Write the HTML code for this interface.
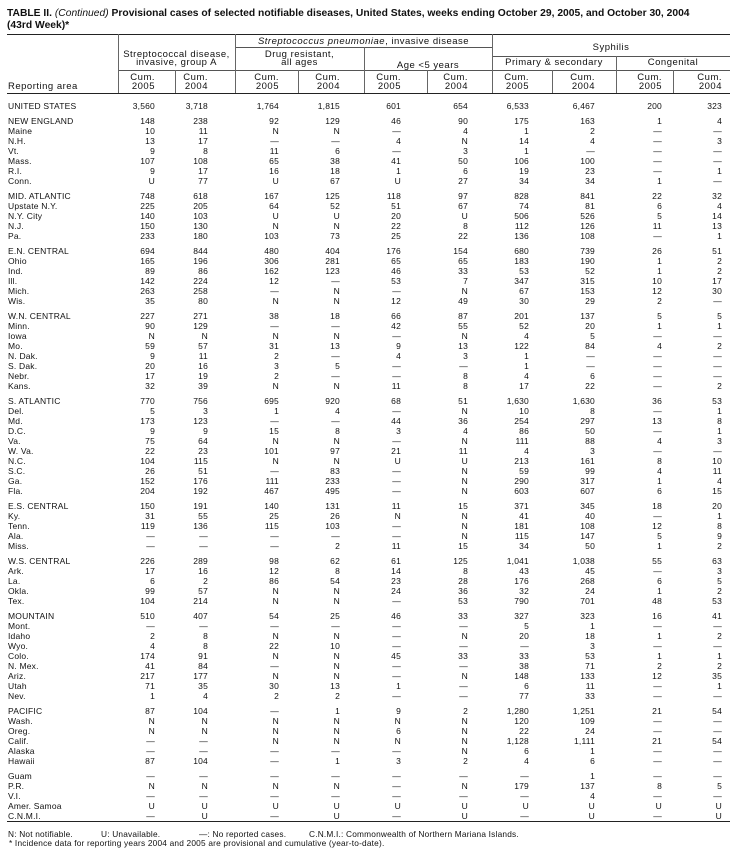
<!DOCTYPE html>
<html><head><meta charset="utf-8">
<style>
html,body{margin:0;padding:0;background:#fff;}
body{width:733px;height:854px;position:relative;overflow:hidden;font-family:"Liberation Sans",Arial,sans-serif;color:#111;}
.t{position:absolute;left:7px;font-size:10.3px;line-height:12px;font-weight:bold;white-space:nowrap;}
.t i{font-weight:normal;}
.h{position:absolute;background:#222;height:1px;}
.v{position:absolute;background:#666;width:1px;}
.hl{position:absolute;font-size:9.5px;letter-spacing:.5px;line-height:10px;white-space:nowrap;text-align:center;}
.hr{position:absolute;font-size:9.5px;letter-spacing:.5px;line-height:10px;white-space:nowrap;}
.r{position:absolute;left:0;width:733px;height:10px;line-height:10px;font-size:8.5px;letter-spacing:.2px;white-space:nowrap;}
.r span,.hc span{position:absolute;top:0;}
.hc{position:absolute;left:0;width:733px;height:10px;line-height:10px;font-size:9.5px;letter-spacing:.5px;white-space:nowrap;}
.a{left:8px;}
.c1{right:578px}.c2{right:525px}.c3{right:454px}.c4{right:393px}.c5{right:332px}
.c6{right:265px}.c7{right:204px}.c8{right:138px}.c9{right:71px}.c10{right:11px}
.f{position:absolute;font-size:8.3px;line-height:10px;letter-spacing:.2px;white-space:nowrap;}
</style></head><body>

<div class="t" style="top:8px">TABLE II. <i>(Continued)</i> Provisional cases of selected notifiable diseases, United States, weeks ending October 29, 2005, and October 30, 2004</div>
<div class="t" style="top:20px">(43rd Week)*</div>

<!-- horizontal rules -->
<div class="h" style="left:7px;width:723px;top:34px;"></div>
<div class="h" style="left:235px;width:257px;top:47px;background:#555"></div>
<div class="h" style="left:492px;width:238px;top:56px;background:#555"></div>
<div class="h" style="left:118px;width:612px;top:70px;background:#555"></div>
<div class="h" style="left:7px;width:723px;top:93px;"></div>
<div class="h" style="left:7px;width:723px;top:821px;"></div>

<!-- vertical lines -->
<div class="v" style="left:118px;top:34px;height:59px"></div>
<div class="v" style="left:175px;top:70px;height:23px"></div>
<div class="v" style="left:235px;top:34px;height:59px"></div>
<div class="v" style="left:298px;top:70px;height:23px"></div>
<div class="v" style="left:364px;top:47px;height:46px"></div>
<div class="v" style="left:427px;top:70px;height:23px"></div>
<div class="v" style="left:492px;top:34px;height:59px"></div>
<div class="v" style="left:552px;top:70px;height:23px"></div>
<div class="v" style="left:616px;top:56px;height:37px"></div>
<div class="v" style="left:673px;top:70px;height:23px"></div>

<!-- header labels -->
<div class="hl" style="left:235px;width:257px;top:37px"><i>Streptococcus pneumoniae</i>, invasive disease</div>
<div class="hl" style="left:492px;width:238px;top:43px">Syphilis</div>
<div class="hl" style="left:118px;width:117px;top:50px">Streptococcal disease,</div>
<div class="hl" style="left:118px;width:117px;top:58px">invasive, group A</div>
<div class="hl" style="left:235px;width:129px;top:50px">Drug resistant,</div>
<div class="hl" style="left:235px;width:129px;top:58px">all ages</div>
<div class="hl" style="left:364px;width:128px;top:61px">Age &lt;5 years</div>
<div class="hl" style="left:492px;width:124px;top:58px">Primary &amp; secondary</div>
<div class="hl" style="left:616px;width:114px;top:58px">Congenital</div>
<div class="hr" style="left:8px;top:82px">Reporting area</div>
<div class="hc" style="top:73px"><span class="c1">Cum.</span><span class="c2">Cum.</span><span class="c3">Cum.</span><span class="c4">Cum.</span><span class="c5">Cum.</span><span class="c6">Cum.</span><span class="c7">Cum.</span><span class="c8">Cum.</span><span class="c9">Cum.</span><span class="c10">Cum.</span></div>
<div class="hc" style="top:82px"><span class="c1">2005</span><span class="c2">2004</span><span class="c3">2005</span><span class="c4">2004</span><span class="c5">2005</span><span class="c6">2004</span><span class="c7">2005</span><span class="c8">2004</span><span class="c9">2005</span><span class="c10">2004</span></div>

<!-- data rows -->
<div class="r" style="top:101px"><span class="a">UNITED STATES</span><span class="c1">3,560</span><span class="c2">3,718</span><span class="c3">1,764</span><span class="c4">1,815</span><span class="c5">601</span><span class="c6">654</span><span class="c7">6,533</span><span class="c8">6,467</span><span class="c9">200</span><span class="c10">323</span></div>

<div class="r" style="top:116px"><span class="a">NEW ENGLAND</span><span class="c1">148</span><span class="c2">238</span><span class="c3">92</span><span class="c4">129</span><span class="c5">46</span><span class="c6">90</span><span class="c7">175</span><span class="c8">163</span><span class="c9">1</span><span class="c10">4</span></div>
<div class="r" style="top:126px"><span class="a">Maine</span><span class="c1">10</span><span class="c2">11</span><span class="c3">N</span><span class="c4">N</span><span class="c5">—</span><span class="c6">4</span><span class="c7">1</span><span class="c8">2</span><span class="c9">—</span><span class="c10">—</span></div>
<div class="r" style="top:136px"><span class="a">N.H.</span><span class="c1">13</span><span class="c2">17</span><span class="c3">—</span><span class="c4">—</span><span class="c5">4</span><span class="c6">N</span><span class="c7">14</span><span class="c8">4</span><span class="c9">—</span><span class="c10">3</span></div>
<div class="r" style="top:146px"><span class="a">Vt.</span><span class="c1">9</span><span class="c2">8</span><span class="c3">11</span><span class="c4">6</span><span class="c5">—</span><span class="c6">3</span><span class="c7">1</span><span class="c8">—</span><span class="c9">—</span><span class="c10">—</span></div>
<div class="r" style="top:156px"><span class="a">Mass.</span><span class="c1">107</span><span class="c2">108</span><span class="c3">65</span><span class="c4">38</span><span class="c5">41</span><span class="c6">50</span><span class="c7">106</span><span class="c8">100</span><span class="c9">—</span><span class="c10">—</span></div>
<div class="r" style="top:166px"><span class="a">R.I.</span><span class="c1">9</span><span class="c2">17</span><span class="c3">16</span><span class="c4">18</span><span class="c5">1</span><span class="c6">6</span><span class="c7">19</span><span class="c8">23</span><span class="c9">—</span><span class="c10">1</span></div>
<div class="r" style="top:176px"><span class="a">Conn.</span><span class="c1">U</span><span class="c2">77</span><span class="c3">U</span><span class="c4">67</span><span class="c5">U</span><span class="c6">27</span><span class="c7">34</span><span class="c8">34</span><span class="c9">1</span><span class="c10">—</span></div>

<div class="r" style="top:191px"><span class="a">MID. ATLANTIC</span><span class="c1">748</span><span class="c2">618</span><span class="c3">167</span><span class="c4">125</span><span class="c5">118</span><span class="c6">97</span><span class="c7">828</span><span class="c8">841</span><span class="c9">22</span><span class="c10">32</span></div>
<div class="r" style="top:201px"><span class="a">Upstate N.Y.</span><span class="c1">225</span><span class="c2">205</span><span class="c3">64</span><span class="c4">52</span><span class="c5">51</span><span class="c6">67</span><span class="c7">74</span><span class="c8">81</span><span class="c9">6</span><span class="c10">4</span></div>
<div class="r" style="top:211px"><span class="a">N.Y. City</span><span class="c1">140</span><span class="c2">103</span><span class="c3">U</span><span class="c4">U</span><span class="c5">20</span><span class="c6">U</span><span class="c7">506</span><span class="c8">526</span><span class="c9">5</span><span class="c10">14</span></div>
<div class="r" style="top:221px"><span class="a">N.J.</span><span class="c1">150</span><span class="c2">130</span><span class="c3">N</span><span class="c4">N</span><span class="c5">22</span><span class="c6">8</span><span class="c7">112</span><span class="c8">126</span><span class="c9">11</span><span class="c10">13</span></div>
<div class="r" style="top:231px"><span class="a">Pa.</span><span class="c1">233</span><span class="c2">180</span><span class="c3">103</span><span class="c4">73</span><span class="c5">25</span><span class="c6">22</span><span class="c7">136</span><span class="c8">108</span><span class="c9">—</span><span class="c10">1</span></div>

<div class="r" style="top:246px"><span class="a">E.N. CENTRAL</span><span class="c1">694</span><span class="c2">844</span><span class="c3">480</span><span class="c4">404</span><span class="c5">176</span><span class="c6">154</span><span class="c7">680</span><span class="c8">739</span><span class="c9">26</span><span class="c10">51</span></div>
<div class="r" style="top:256px"><span class="a">Ohio</span><span class="c1">165</span><span class="c2">196</span><span class="c3">306</span><span class="c4">281</span><span class="c5">65</span><span class="c6">65</span><span class="c7">183</span><span class="c8">190</span><span class="c9">1</span><span class="c10">2</span></div>
<div class="r" style="top:266px"><span class="a">Ind.</span><span class="c1">89</span><span class="c2">86</span><span class="c3">162</span><span class="c4">123</span><span class="c5">46</span><span class="c6">33</span><span class="c7">53</span><span class="c8">52</span><span class="c9">1</span><span class="c10">2</span></div>
<div class="r" style="top:276px"><span class="a">Ill.</span><span class="c1">142</span><span class="c2">224</span><span class="c3">12</span><span class="c4">—</span><span class="c5">53</span><span class="c6">7</span><span class="c7">347</span><span class="c8">315</span><span class="c9">10</span><span class="c10">17</span></div>
<div class="r" style="top:286px"><span class="a">Mich.</span><span class="c1">263</span><span class="c2">258</span><span class="c3">—</span><span class="c4">N</span><span class="c5">—</span><span class="c6">N</span><span class="c7">67</span><span class="c8">153</span><span class="c9">12</span><span class="c10">30</span></div>
<div class="r" style="top:296px"><span class="a">Wis.</span><span class="c1">35</span><span class="c2">80</span><span class="c3">N</span><span class="c4">N</span><span class="c5">12</span><span class="c6">49</span><span class="c7">30</span><span class="c8">29</span><span class="c9">2</span><span class="c10">—</span></div>

<div class="r" style="top:311px"><span class="a">W.N. CENTRAL</span><span class="c1">227</span><span class="c2">271</span><span class="c3">38</span><span class="c4">18</span><span class="c5">66</span><span class="c6">87</span><span class="c7">201</span><span class="c8">137</span><span class="c9">5</span><span class="c10">5</span></div>
<div class="r" style="top:321px"><span class="a">Minn.</span><span class="c1">90</span><span class="c2">129</span><span class="c3">—</span><span class="c4">—</span><span class="c5">42</span><span class="c6">55</span><span class="c7">52</span><span class="c8">20</span><span class="c9">1</span><span class="c10">1</span></div>
<div class="r" style="top:331px"><span class="a">Iowa</span><span class="c1">N</span><span class="c2">N</span><span class="c3">N</span><span class="c4">N</span><span class="c5">—</span><span class="c6">N</span><span class="c7">4</span><span class="c8">5</span><span class="c9">—</span><span class="c10">—</span></div>
<div class="r" style="top:341px"><span class="a">Mo.</span><span class="c1">59</span><span class="c2">57</span><span class="c3">31</span><span class="c4">13</span><span class="c5">9</span><span class="c6">13</span><span class="c7">122</span><span class="c8">84</span><span class="c9">4</span><span class="c10">2</span></div>
<div class="r" style="top:351px"><span class="a">N. Dak.</span><span class="c1">9</span><span class="c2">11</span><span class="c3">2</span><span class="c4">—</span><span class="c5">4</span><span class="c6">3</span><span class="c7">1</span><span class="c8">—</span><span class="c9">—</span><span class="c10">—</span></div>
<div class="r" style="top:361px"><span class="a">S. Dak.</span><span class="c1">20</span><span class="c2">16</span><span class="c3">3</span><span class="c4">5</span><span class="c5">—</span><span class="c6">—</span><span class="c7">1</span><span class="c8">—</span><span class="c9">—</span><span class="c10">—</span></div>
<div class="r" style="top:371px"><span class="a">Nebr.</span><span class="c1">17</span><span class="c2">19</span><span class="c3">2</span><span class="c4">—</span><span class="c5">—</span><span class="c6">8</span><span class="c7">4</span><span class="c8">6</span><span class="c9">—</span><span class="c10">—</span></div>
<div class="r" style="top:381px"><span class="a">Kans.</span><span class="c1">32</span><span class="c2">39</span><span class="c3">N</span><span class="c4">N</span><span class="c5">11</span><span class="c6">8</span><span class="c7">17</span><span class="c8">22</span><span class="c9">—</span><span class="c10">2</span></div>

<div class="r" style="top:396px"><span class="a">S. ATLANTIC</span><span class="c1">770</span><span class="c2">756</span><span class="c3">695</span><span class="c4">920</span><span class="c5">68</span><span class="c6">51</span><span class="c7">1,630</span><span class="c8">1,630</span><span class="c9">36</span><span class="c10">53</span></div>
<div class="r" style="top:406px"><span class="a">Del.</span><span class="c1">5</span><span class="c2">3</span><span class="c3">1</span><span class="c4">4</span><span class="c5">—</span><span class="c6">N</span><span class="c7">10</span><span class="c8">8</span><span class="c9">—</span><span class="c10">1</span></div>
<div class="r" style="top:416px"><span class="a">Md.</span><span class="c1">173</span><span class="c2">123</span><span class="c3">—</span><span class="c4">—</span><span class="c5">44</span><span class="c6">36</span><span class="c7">254</span><span class="c8">297</span><span class="c9">13</span><span class="c10">8</span></div>
<div class="r" style="top:426px"><span class="a">D.C.</span><span class="c1">9</span><span class="c2">9</span><span class="c3">15</span><span class="c4">8</span><span class="c5">3</span><span class="c6">4</span><span class="c7">86</span><span class="c8">50</span><span class="c9">—</span><span class="c10">1</span></div>
<div class="r" style="top:436px"><span class="a">Va.</span><span class="c1">75</span><span class="c2">64</span><span class="c3">N</span><span class="c4">N</span><span class="c5">—</span><span class="c6">N</span><span class="c7">111</span><span class="c8">88</span><span class="c9">4</span><span class="c10">3</span></div>
<div class="r" style="top:446px"><span class="a">W. Va.</span><span class="c1">22</span><span class="c2">23</span><span class="c3">101</span><span class="c4">97</span><span class="c5">21</span><span class="c6">11</span><span class="c7">4</span><span class="c8">3</span><span class="c9">—</span><span class="c10">—</span></div>
<div class="r" style="top:456px"><span class="a">N.C.</span><span class="c1">104</span><span class="c2">115</span><span class="c3">N</span><span class="c4">N</span><span class="c5">U</span><span class="c6">U</span><span class="c7">213</span><span class="c8">161</span><span class="c9">8</span><span class="c10">10</span></div>
<div class="r" style="top:466px"><span class="a">S.C.</span><span class="c1">26</span><span class="c2">51</span><span class="c3">—</span><span class="c4">83</span><span class="c5">—</span><span class="c6">N</span><span class="c7">59</span><span class="c8">99</span><span class="c9">4</span><span class="c10">11</span></div>
<div class="r" style="top:476px"><span class="a">Ga.</span><span class="c1">152</span><span class="c2">176</span><span class="c3">111</span><span class="c4">233</span><span class="c5">—</span><span class="c6">N</span><span class="c7">290</span><span class="c8">317</span><span class="c9">1</span><span class="c10">4</span></div>
<div class="r" style="top:486px"><span class="a">Fla.</span><span class="c1">204</span><span class="c2">192</span><span class="c3">467</span><span class="c4">495</span><span class="c5">—</span><span class="c6">N</span><span class="c7">603</span><span class="c8">607</span><span class="c9">6</span><span class="c10">15</span></div>

<div class="r" style="top:501px"><span class="a">E.S. CENTRAL</span><span class="c1">150</span><span class="c2">191</span><span class="c3">140</span><span class="c4">131</span><span class="c5">11</span><span class="c6">15</span><span class="c7">371</span><span class="c8">345</span><span class="c9">18</span><span class="c10">20</span></div>
<div class="r" style="top:511px"><span class="a">Ky.</span><span class="c1">31</span><span class="c2">55</span><span class="c3">25</span><span class="c4">26</span><span class="c5">N</span><span class="c6">N</span><span class="c7">41</span><span class="c8">40</span><span class="c9">—</span><span class="c10">1</span></div>
<div class="r" style="top:521px"><span class="a">Tenn.</span><span class="c1">119</span><span class="c2">136</span><span class="c3">115</span><span class="c4">103</span><span class="c5">—</span><span class="c6">N</span><span class="c7">181</span><span class="c8">108</span><span class="c9">12</span><span class="c10">8</span></div>
<div class="r" style="top:531px"><span class="a">Ala.</span><span class="c1">—</span><span class="c2">—</span><span class="c3">—</span><span class="c4">—</span><span class="c5">—</span><span class="c6">N</span><span class="c7">115</span><span class="c8">147</span><span class="c9">5</span><span class="c10">9</span></div>
<div class="r" style="top:541px"><span class="a">Miss.</span><span class="c1">—</span><span class="c2">—</span><span class="c3">—</span><span class="c4">2</span><span class="c5">11</span><span class="c6">15</span><span class="c7">34</span><span class="c8">50</span><span class="c9">1</span><span class="c10">2</span></div>

<div class="r" style="top:556px"><span class="a">W.S. CENTRAL</span><span class="c1">226</span><span class="c2">289</span><span class="c3">98</span><span class="c4">62</span><span class="c5">61</span><span class="c6">125</span><span class="c7">1,041</span><span class="c8">1,038</span><span class="c9">55</span><span class="c10">63</span></div>
<div class="r" style="top:566px"><span class="a">Ark.</span><span class="c1">17</span><span class="c2">16</span><span class="c3">12</span><span class="c4">8</span><span class="c5">14</span><span class="c6">8</span><span class="c7">43</span><span class="c8">45</span><span class="c9">—</span><span class="c10">3</span></div>
<div class="r" style="top:576px"><span class="a">La.</span><span class="c1">6</span><span class="c2">2</span><span class="c3">86</span><span class="c4">54</span><span class="c5">23</span><span class="c6">28</span><span class="c7">176</span><span class="c8">268</span><span class="c9">6</span><span class="c10">5</span></div>
<div class="r" style="top:586px"><span class="a">Okla.</span><span class="c1">99</span><span class="c2">57</span><span class="c3">N</span><span class="c4">N</span><span class="c5">24</span><span class="c6">36</span><span class="c7">32</span><span class="c8">24</span><span class="c9">1</span><span class="c10">2</span></div>
<div class="r" style="top:596px"><span class="a">Tex.</span><span class="c1">104</span><span class="c2">214</span><span class="c3">N</span><span class="c4">N</span><span class="c5">—</span><span class="c6">53</span><span class="c7">790</span><span class="c8">701</span><span class="c9">48</span><span class="c10">53</span></div>

<div class="r" style="top:611px"><span class="a">MOUNTAIN</span><span class="c1">510</span><span class="c2">407</span><span class="c3">54</span><span class="c4">25</span><span class="c5">46</span><span class="c6">33</span><span class="c7">327</span><span class="c8">323</span><span class="c9">16</span><span class="c10">41</span></div>
<div class="r" style="top:621px"><span class="a">Mont.</span><span class="c1">—</span><span class="c2">—</span><span class="c3">—</span><span class="c4">—</span><span class="c5">—</span><span class="c6">—</span><span class="c7">5</span><span class="c8">1</span><span class="c9">—</span><span class="c10">—</span></div>
<div class="r" style="top:631px"><span class="a">Idaho</span><span class="c1">2</span><span class="c2">8</span><span class="c3">N</span><span class="c4">N</span><span class="c5">—</span><span class="c6">N</span><span class="c7">20</span><span class="c8">18</span><span class="c9">1</span><span class="c10">2</span></div>
<div class="r" style="top:641px"><span class="a">Wyo.</span><span class="c1">4</span><span class="c2">8</span><span class="c3">22</span><span class="c4">10</span><span class="c5">—</span><span class="c6">—</span><span class="c7">—</span><span class="c8">3</span><span class="c9">—</span><span class="c10">—</span></div>
<div class="r" style="top:651px"><span class="a">Colo.</span><span class="c1">174</span><span class="c2">91</span><span class="c3">N</span><span class="c4">N</span><span class="c5">45</span><span class="c6">33</span><span class="c7">33</span><span class="c8">53</span><span class="c9">1</span><span class="c10">1</span></div>
<div class="r" style="top:661px"><span class="a">N. Mex.</span><span class="c1">41</span><span class="c2">84</span><span class="c3">—</span><span class="c4">N</span><span class="c5">—</span><span class="c6">—</span><span class="c7">38</span><span class="c8">71</span><span class="c9">2</span><span class="c10">2</span></div>
<div class="r" style="top:671px"><span class="a">Ariz.</span><span class="c1">217</span><span class="c2">177</span><span class="c3">N</span><span class="c4">N</span><span class="c5">—</span><span class="c6">N</span><span class="c7">148</span><span class="c8">133</span><span class="c9">12</span><span class="c10">35</span></div>
<div class="r" style="top:681px"><span class="a">Utah</span><span class="c1">71</span><span class="c2">35</span><span class="c3">30</span><span class="c4">13</span><span class="c5">1</span><span class="c6">—</span><span class="c7">6</span><span class="c8">11</span><span class="c9">—</span><span class="c10">1</span></div>
<div class="r" style="top:691px"><span class="a">Nev.</span><span class="c1">1</span><span class="c2">4</span><span class="c3">2</span><span class="c4">2</span><span class="c5">—</span><span class="c6">—</span><span class="c7">77</span><span class="c8">33</span><span class="c9">—</span><span class="c10">—</span></div>

<div class="r" style="top:706px"><span class="a">PACIFIC</span><span class="c1">87</span><span class="c2">104</span><span class="c3">—</span><span class="c4">1</span><span class="c5">9</span><span class="c6">2</span><span class="c7">1,280</span><span class="c8">1,251</span><span class="c9">21</span><span class="c10">54</span></div>
<div class="r" style="top:716px"><span class="a">Wash.</span><span class="c1">N</span><span class="c2">N</span><span class="c3">N</span><span class="c4">N</span><span class="c5">N</span><span class="c6">N</span><span class="c7">120</span><span class="c8">109</span><span class="c9">—</span><span class="c10">—</span></div>
<div class="r" style="top:726px"><span class="a">Oreg.</span><span class="c1">N</span><span class="c2">N</span><span class="c3">N</span><span class="c4">N</span><span class="c5">6</span><span class="c6">N</span><span class="c7">22</span><span class="c8">24</span><span class="c9">—</span><span class="c10">—</span></div>
<div class="r" style="top:736px"><span class="a">Calif.</span><span class="c1">—</span><span class="c2">—</span><span class="c3">N</span><span class="c4">N</span><span class="c5">N</span><span class="c6">N</span><span class="c7">1,128</span><span class="c8">1,111</span><span class="c9">21</span><span class="c10">54</span></div>
<div class="r" style="top:746px"><span class="a">Alaska</span><span class="c1">—</span><span class="c2">—</span><span class="c3">—</span><span class="c4">—</span><span class="c5">—</span><span class="c6">N</span><span class="c7">6</span><span class="c8">1</span><span class="c9">—</span><span class="c10">—</span></div>
<div class="r" style="top:756px"><span class="a">Hawaii</span><span class="c1">87</span><span class="c2">104</span><span class="c3">—</span><span class="c4">1</span><span class="c5">3</span><span class="c6">2</span><span class="c7">4</span><span class="c8">6</span><span class="c9">—</span><span class="c10">—</span></div>

<div class="r" style="top:771px"><span class="a">Guam</span><span class="c1">—</span><span class="c2">—</span><span class="c3">—</span><span class="c4">—</span><span class="c5">—</span><span class="c6">—</span><span class="c7">—</span><span class="c8">1</span><span class="c9">—</span><span class="c10">—</span></div>
<div class="r" style="top:781px"><span class="a">P.R.</span><span class="c1">N</span><span class="c2">N</span><span class="c3">N</span><span class="c4">N</span><span class="c5">—</span><span class="c6">N</span><span class="c7">179</span><span class="c8">137</span><span class="c9">8</span><span class="c10">5</span></div>
<div class="r" style="top:791px"><span class="a">V.I.</span><span class="c1">—</span><span class="c2">—</span><span class="c3">—</span><span class="c4">—</span><span class="c5">—</span><span class="c6">—</span><span class="c7">—</span><span class="c8">4</span><span class="c9">—</span><span class="c10">—</span></div>
<div class="r" style="top:801px"><span class="a">Amer. Samoa</span><span class="c1">U</span><span class="c2">U</span><span class="c3">U</span><span class="c4">U</span><span class="c5">U</span><span class="c6">U</span><span class="c7">U</span><span class="c8">U</span><span class="c9">U</span><span class="c10">U</span></div>
<div class="r" style="top:811px"><span class="a">C.N.M.I.</span><span class="c1">—</span><span class="c2">U</span><span class="c3">—</span><span class="c4">U</span><span class="c5">—</span><span class="c6">U</span><span class="c7">—</span><span class="c8">U</span><span class="c9">—</span><span class="c10">U</span></div>

<!-- footnotes -->
<div class="f" style="left:8px;top:829px">N: Not notifiable.</div>
<div class="f" style="left:101px;top:829px">U: Unavailable.</div>
<div class="f" style="left:199px;top:829px">—: No reported cases.</div>
<div class="f" style="left:309px;top:829px">C.N.M.I.: Commonwealth of Northern Mariana Islands.</div>
<div class="f" style="left:9px;top:838px">* Incidence data for reporting years 2004 and 2005 are provisional and cumulative (year-to-date).</div>

</body></html>
